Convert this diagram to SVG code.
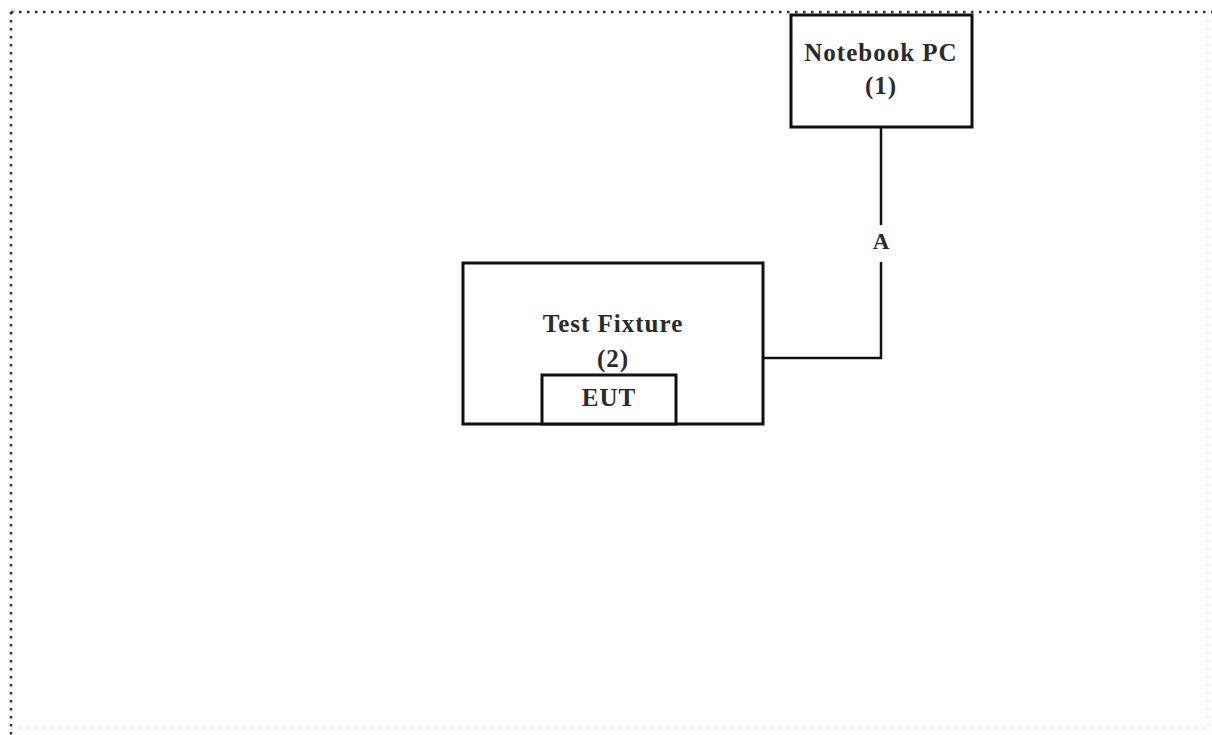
<svg xmlns="http://www.w3.org/2000/svg" width="1212" height="735" viewBox="0 0 1212 735">
<style>
.box{fill:#fff;stroke:#111;stroke-width:3}
.lbl{font-family:"Liberation Serif","Times New Roman",serif;font-weight:bold;font-size:25px;letter-spacing:1px;fill:#2a2a2a;text-anchor:middle}
.wire{fill:none;stroke:#111;stroke-width:2.5}
.border{fill:none;stroke:#333;stroke-width:2.5;stroke-dasharray:2.5 5.5}
.border-faint{fill:none;stroke:#ececec;stroke-width:2.2;stroke-dasharray:2 6}
</style>
<rect x="0" y="0" width="1212" height="735" fill="#fff"/>
<g id="frame">
<path class="border" d="M11 12 H1212 M11 12 V735"/>
<path class="border-faint" d="M11 728 H1212 M1208 12 V728"/>
</g>
<g id="connectors">
<path class="wire" d="M763 358 H881 V262 M881 225 V127"/>
<text class="lbl" x="881" y="249" style="font-size:23px;letter-spacing:0">A</text>
</g>
<g id="node-notebook">
<rect class="box" x="791" y="15" width="181" height="112"/>
<text class="lbl" x="881" y="61">Notebook PC</text>
<text class="lbl" x="881" y="94">(1)</text>
</g>
<g id="node-fixture">
<rect class="box" x="463" y="263" width="300" height="161"/>
<text class="lbl" x="613" y="332">Test Fixture</text>
<text class="lbl" x="613" y="367">(2)</text>
</g>
<g id="node-eut">
<rect class="box" x="542" y="375" width="134" height="49"/>
<text class="lbl" x="609" y="406">EUT</text>
</g>
</svg>
